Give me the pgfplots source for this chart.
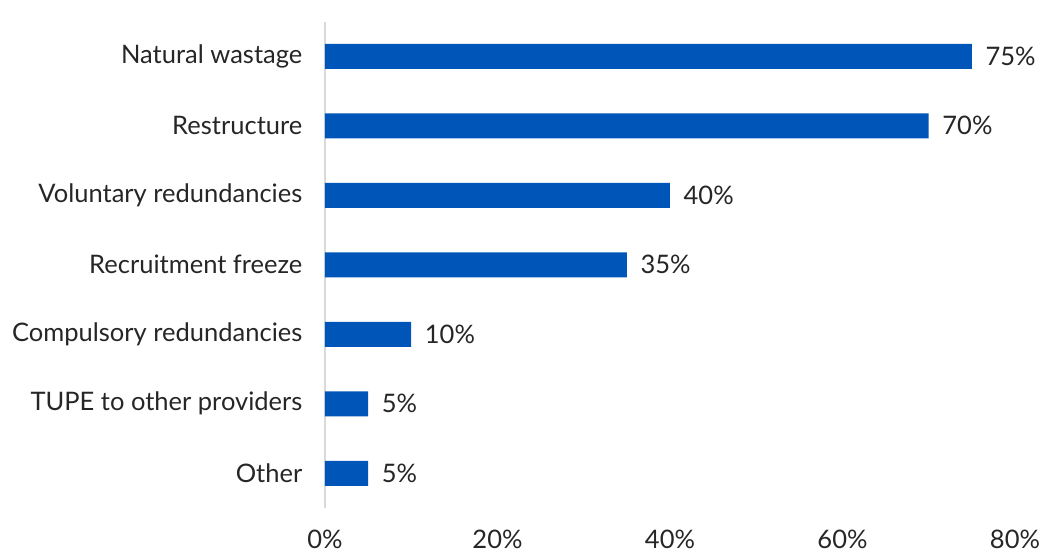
\documentclass[border=0pt]{standalone}
\usepackage{pgfplots}
\pgfplotsset{compat=1.18}
\usepackage{fontspec}
\setmainfont{Lato}
\definecolor{barblue}{HTML}{0055B8}
\definecolor{txt}{HTML}{262626}
\definecolor{axgray}{HTML}{D9D9D9}
\newcommand{\lblfont}{\fontsize{25.5pt}{30pt}\selectfont}
\begin{document}
\lblfont
\begin{tikzpicture}
\useasboundingbox (-325pt,-44pt) rectangle (718pt,508pt);
\begin{axis}[
  at={(0,0)}, anchor=south west,
  scale only axis,
  width=690pt, height=486.5pt,
  xmin=0, xmax=80,
  ymin=-0.5, ymax=6.5,
  xbar, bar width=25pt,
  bar shift=0pt,
  axis x line=none,
  axis y line*=left,
  y axis line style={draw=axgray, line width=2pt},
  ytick={0,...,6},
  yticklabels={Other,TUPE to other providers,Compulsory redundancies,Recruitment freeze,Voluntary redundancies,Restructure,Natural wastage},
  y tick label style={font=\lblfont, text=txt, xshift=-14pt},
  major tick length=0pt,
  nodes near coords={\pgfmathprintnumber{\pgfplotspointmeta}\%},
  point meta=x,
  nodes near coords style={font=\lblfont, text=txt, anchor=west, xshift=5pt},
  /pgf/number format/assume math mode=true,
  clip=false,
]
\addplot[fill=barblue, draw=none] coordinates {
 (5,0) (5,1) (10,2) (35,3) (40,4) (70,5) (75,6)
};
\end{axis}
\begin{axis}[
  at={(0,0)}, anchor=south west,
  scale only axis,
  width=690pt, height=486.5pt,
  xmin=0, xmax=80, ymin=0, ymax=1,
  axis x line*=bottom, axis y line=none,
  x axis line style={draw=none},
  xtick={0,20,40,60,80},
  xticklabel={\pgfmathprintnumber{\tick}\%},
  x tick label style={font=\lblfont, text=txt, yshift=-13pt},
  major tick length=0pt,
  /pgf/number format/assume math mode=true,
]
\end{axis}
\end{tikzpicture}
\end{document}
